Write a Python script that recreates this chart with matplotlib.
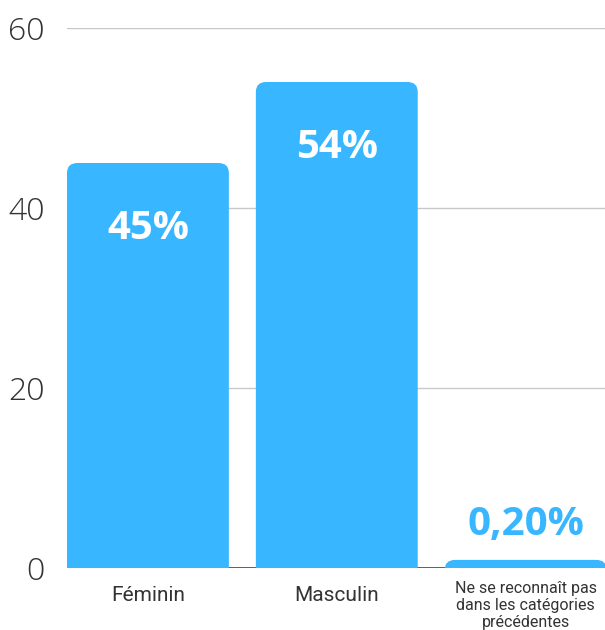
import matplotlib
matplotlib.use("Agg")
import matplotlib.pyplot as plt
from matplotlib.patches import FancyBboxPatch

# Données
categories = ["Féminin", "Masculin", "Ne se reconnaît pas\ndans les catégories\nprécédentes"]
valeurs = [45, 54, 0.2]
etiquettes = ["45%", "54%", "0,20%"]
yticks = [0, 20, 40, 60]

bleu = "#38b6ff"

fig = plt.figure(figsize=(6.05, 6.3), dpi=100)
ax = fig.add_axes([67/605, 62/630, 538/605, 540/630])

largeur = 0.857
bars = ax.bar(range(len(valeurs)), [max(v, 0.9) for v in valeurs], width=largeur, color="none")

# barres arrondies en haut (le bas est coupé par l'axe)
for b in bars:
    p = FancyBboxPatch((b.get_x(), -3), b.get_width(), b.get_height() + 3,
                       boxstyle="round,pad=0,rounding_size=0.055",
                       mutation_aspect=20, facecolor=bleu, edgecolor="none", zorder=3)
    ax.add_patch(p)

for i, v in enumerate(valeurs):
    if v > 10:
        ax.text(i, v - 7.3, etiquettes[i], ha="center", va="center", color="white",
                fontsize=29, fontweight="bold", family="Open Sans", zorder=4)
    else:
        ax.text(i, 4.8, etiquettes[i], ha="center", va="center", color=bleu,
                fontsize=29, fontweight="bold", family="Open Sans", zorder=4)

ax.set_ylim(0, 60)
ax.set_xlim(-largeur/2, 2.42)
ax.set_yticks(yticks)
ax.set_yticklabels([str(t) for t in yticks], fontsize=23, color="#333", family="Open Sans", fontweight="light")
ax.tick_params(axis="y", length=0, pad=16)
ax.tick_params(axis="x", length=0, pad=13)
ax.set_xticks(range(len(categories)))
ax.set_xticklabels(categories[:2] + [""], fontsize=15, color="#333", family="Roboto")
ax.text(2, -1.5, categories[2], ha="center", va="top", fontsize=11.5, color="#333",
        family="Roboto", linespacing=1.15)

ax.grid(axis="y", color="#c8c8c8", linewidth=1, zorder=0)
ax.axhline(0, color="#555555", linewidth=1.3, zorder=2)
for s in ax.spines.values():
    s.set_visible(False)
ax.set_axisbelow(True)

fig.savefig("out.png", dpi=100)
